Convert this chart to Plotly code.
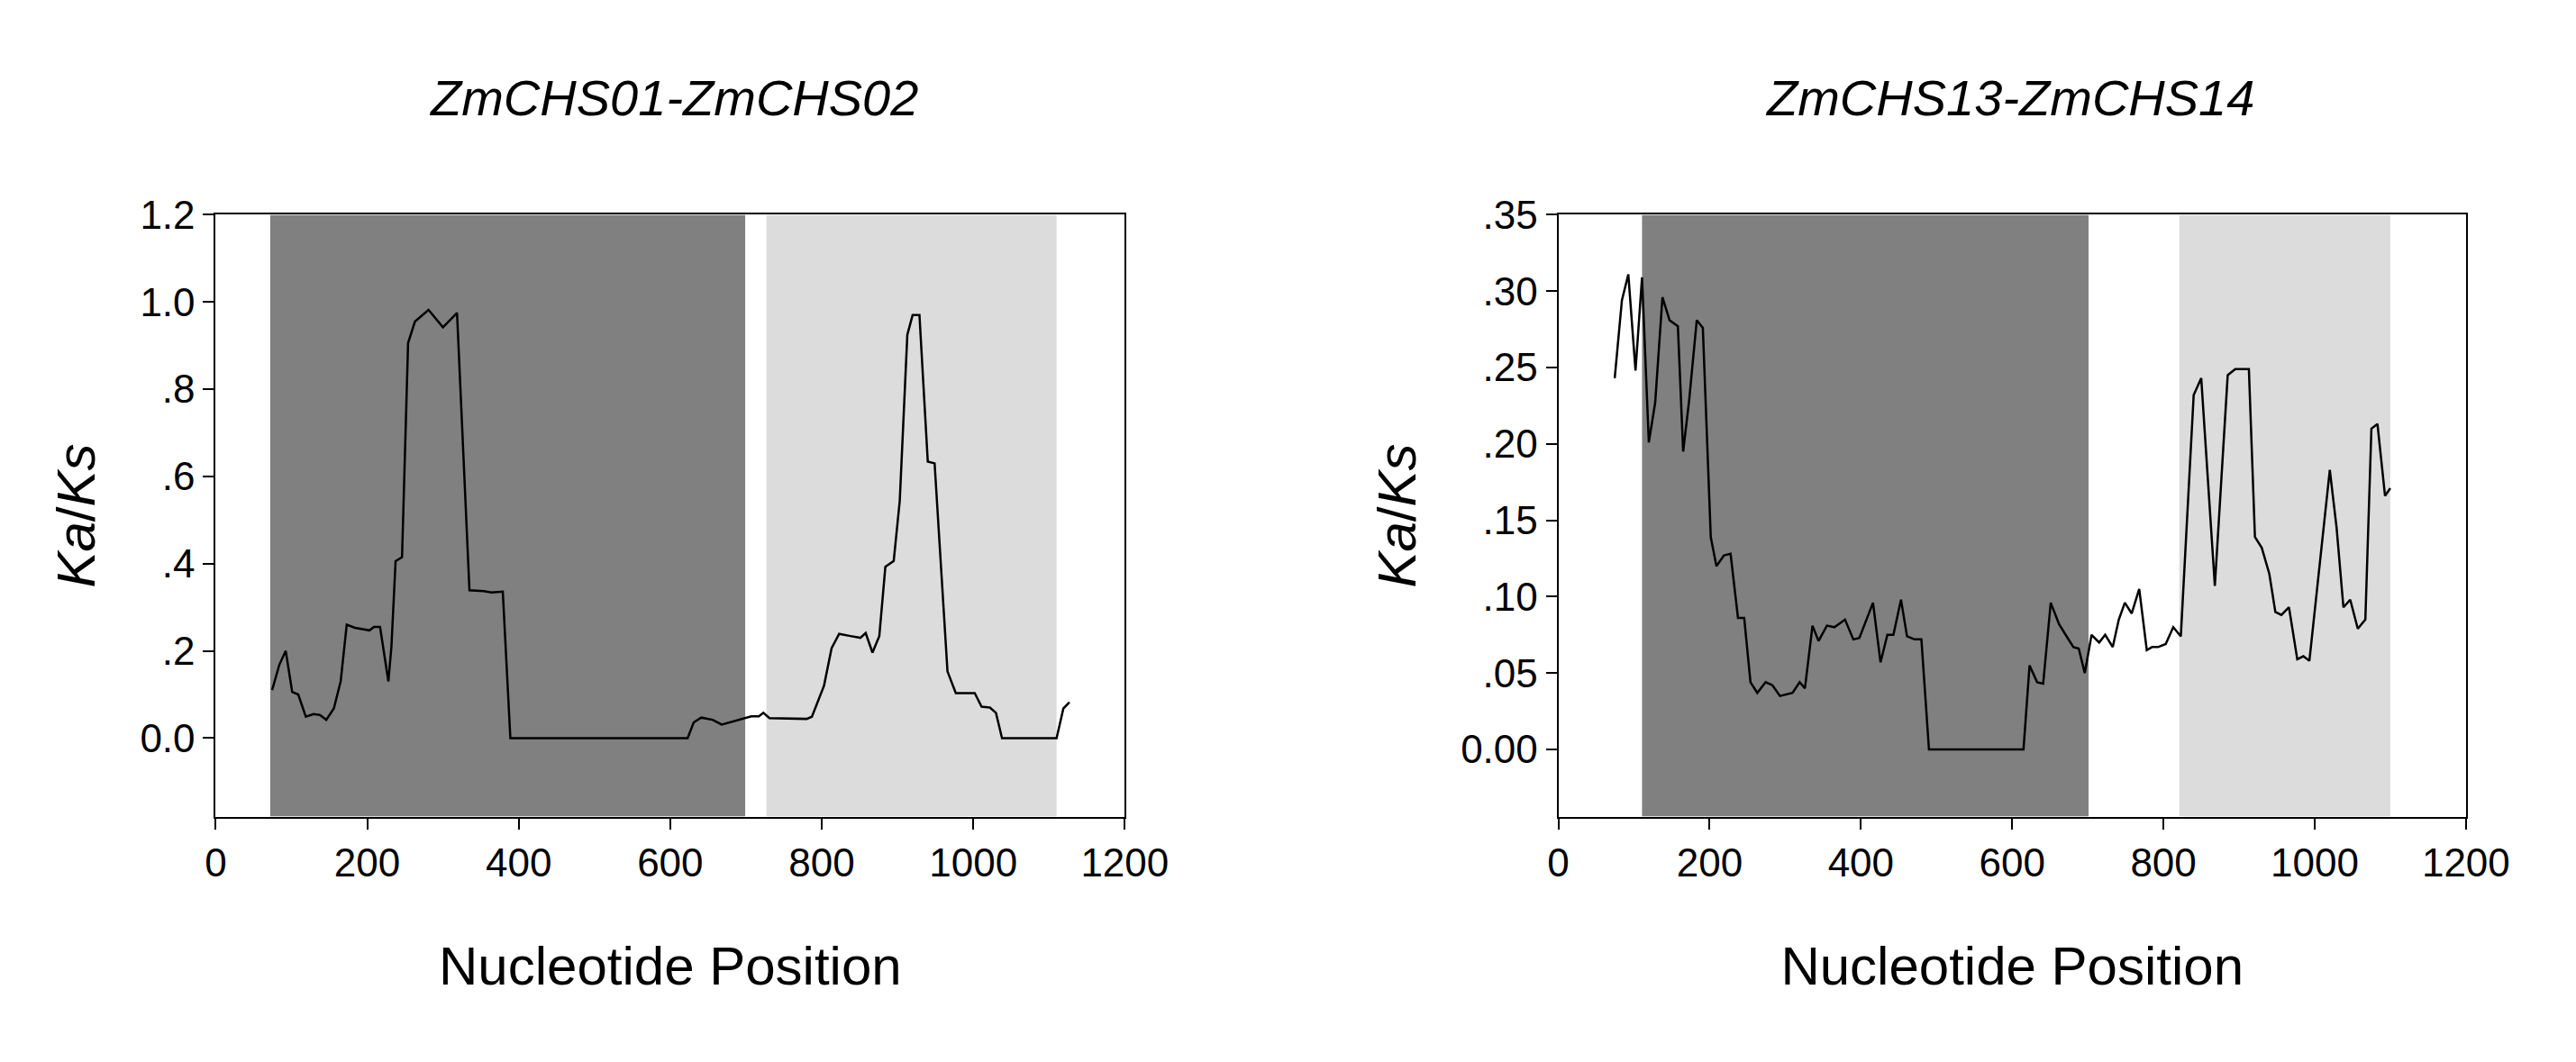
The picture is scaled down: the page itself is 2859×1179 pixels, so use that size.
import plotly.graph_objects as go

x1 = [74.5,84,92.5,101,109,119,129,137.6,146,156,165,173,184,203,209,217,228,232,237.5,246,254,263,281,300,318.6,335,354,364,379,389,623,631,641,656,668,694.5,707,717,723,731,780,787,803,813,823,838,851,858,867,876,884,895,903,913,920,929,940,949,966,977,1002,1011,1022,1030,1038,1110,1119,1127]
y1 = [0.11,0.168,0.20,0.106,0.10,0.049,0.055,0.053,0.042,0.068,0.13,0.26,0.253,0.247,0.255,0.255,0.13,0.21,0.406,0.415,0.906,0.955,0.982,0.942,0.975,0.339,0.337,0.334,0.336,0,0,0.036,0.047,0.042,0.031,0.044,0.05,0.05,0.058,0.046,0.044,0.049,0.12,0.206,0.239,0.234,0.23,0.241,0.196,0.234,0.393,0.406,0.544,0.925,0.97,0.97,0.634,0.63,0.153,0.103,0.103,0.072,0.07,0.058,0,0,0.068,0.082]

x2 = [74.5,84,92.5,102,110.6,119.6,128,137.6,147,158,165,173,183,191,201.5,209,219,227.7,237.5,245.7,254,263,274,283,293,303,309.6,319,326,336,344,355,365,379,390,398,416,426,435,443,453,461,471,480,490,615,623,633,641,651,662,672,681,688,696,705,715,723,733,741,749,758,768,778,785,793,803,813,823,840,850,868,885,895,913,921,930,940,948,956,966,977,985,993,1010,1020,1029,1038,1047,1057,1067,1075,1083,1093,1100]
y2 = [0.243,0.294,0.311,0.248,0.309,0.201,0.227,0.296,0.281,0.277,0.195,0.229,0.281,0.276,0.139,0.12,0.127,0.128,0.086,0.086,0.044,0.037,0.044,0.042,0.035,0.036,0.037,0.044,0.04,0.081,0.071,0.081,0.08,0.085,0.072,0.073,0.096,0.057,0.075,0.075,0.098,0.074,0.072,0.072,0,0,0.055,0.044,0.043,0.096,0.082,0.074,0.067,0.066,0.05,0.075,0.070,0.075,0.067,0.085,0.096,0.089,0.105,0.065,0.067,0.067,0.069,0.08,0.074,0.232,0.243,0.107,0.245,0.249,0.249,0.139,0.132,0.115,0.09,0.088,0.093,0.059,0.061,0.058,0.139,0.183,0.145,0.093,0.098,0.079,0.085,0.21,0.213,0.166,0.171]

titles = ["ZmCHS01-ZmCHS02", "ZmCHS13-ZmCHS14"]
regions1 = [(72, 699, "#808080"), (727, 1110, "#dcdcdc")]
regions2 = [(110.6, 701, "#808080"), (821, 1100, "#dcdcdc")]
yt1 = [0, 0.2, 0.4, 0.6, 0.8, 1.0, 1.2]
yl1 = ["0.0", ".2", ".4", ".6", ".8", "1.0", "1.2"]
yt2 = [0, 0.05, 0.10, 0.15, 0.20, 0.25, 0.30, 0.35]
yl2 = ["0.00", ".05", ".10", ".15", ".20", ".25", ".30", ".35"]

F = "Liberation Sans, Arial, sans-serif"
fig = go.Figure()
fig.add_trace(go.Scatter(x=x1, y=y1, mode="lines", line=dict(color="black", width=2.5), xaxis="x", yaxis="y"))
fig.add_trace(go.Scatter(x=x2, y=y2, mode="lines", line=dict(color="black", width=2.5), xaxis="x2", yaxis="y2"))

for (a, b, c) in regions1:
    fig.add_shape(type="rect", xref="x", yref="y", x0=a, x1=b, y0=-0.18, y1=1.2, fillcolor=c, line_width=0, layer="below")
for (a, b, c) in regions2:
    fig.add_shape(type="rect", xref="x2", yref="y2", x0=a, x1=b, y0=-0.044, y1=0.35, fillcolor=c, line_width=0, layer="below")

ax = dict(showgrid=False, zeroline=False, showline=True, linecolor="black", linewidth=2,
          mirror=True, ticks="outside", ticklen=12, tickwidth=2, tickcolor="black",
          tickfont=dict(family=F, size=44, color="black"))
tf = dict(family=F, size=60, color="black")
fig.update_layout(
    width=2859, height=1179, paper_bgcolor="white", plot_bgcolor="white",
    showlegend=False, margin=dict(l=0, r=0, t=0, b=0),
    xaxis=dict(ax, domain=[0.0784, 0.439], range=[0, 1200], tickvals=[0,200,400,600,800,1000,1200],
               title=dict(text="Nucleotide Position", font=tf, standoff=70)),
    yaxis=dict(ax, domain=[0.243, 0.822], range=[-0.18, 1.2], tickvals=yt1, ticktext=yl1,
               title=dict(text="<i>Ka</i>/<i>Ks</i>", font=tf, standoff=30)),
    xaxis2=dict(ax, domain=[0.611, 0.971], range=[0, 1200], tickvals=[0,200,400,600,800,1000,1200], anchor="y2",
                title=dict(text="Nucleotide Position", font=tf, standoff=70)),
    yaxis2=dict(ax, domain=[0.243, 0.822], range=[-0.044, 0.35], tickvals=yt2, ticktext=yl2, anchor="x2",
                title=dict(text="<i>Ka</i>/<i>Ks</i>", font=tf, standoff=30)),
)
for xc, t in zip([0.26, 0.79], titles):
    fig.add_annotation(x=xc, y=0.935, xref="paper", yref="paper", xanchor="center", yanchor="middle",
                       text="<i>" + t + "</i>", showarrow=False,
                       font=dict(family=F, size=56, color="black"))
fig.write_html("out.html")
